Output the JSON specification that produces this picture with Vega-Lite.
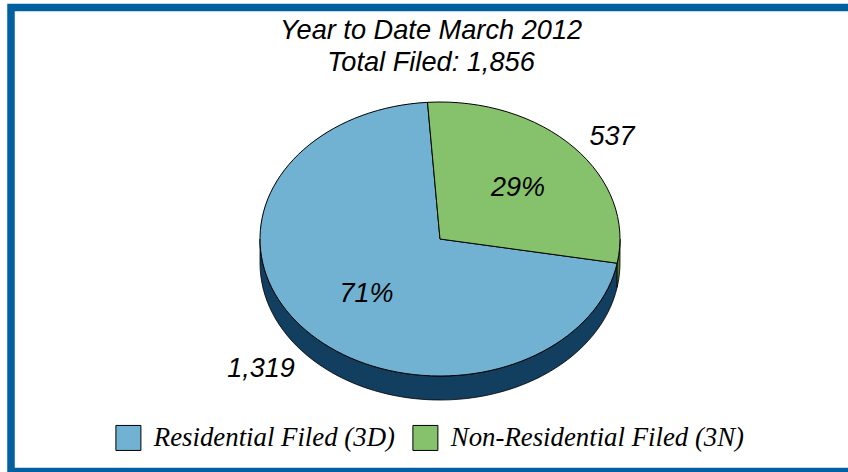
{"$schema":"https://vega.github.io/schema/vega-lite/v6.json","width":842,"height":464,"autosize":{"type":"none"},"padding":{"left":11,"top":7.5,"right":-5,"bottom":0.5},"background":"white","config":{"view":{"stroke":"#0060a0","strokeWidth":7.5,"fill":"white"},"text":{"font":"Liberation Sans"}},"title":{"text":["Year to Date March 2012","Total Filed: 1,856"],"font":"Liberation Sans","fontStyle":"italic","fontWeight":"normal","fontSize":27.2,"lineHeight":32,"color":"black","anchor":"middle","orient":"top","dy":70,"dx":-1,"offset":0},"data":{"values":[{"category":"Residential Filed (3D)","count":1319,"share":0.71},{"category":"Non-Residential Filed (3N)","count":537,"share":0.29}]},"layer":[{"transform":[{"filter":"datum.category === 'Residential Filed (3D)'"}],"mark":{"type":"point","filled":true,"fill":"#123f60","stroke":"black","strokeWidth":0.8,"opacity":1,"size":4,"xOffset":8,"yOffset":-0.5,"shape":"M177.17,24.21A180,137 0 0 1 -180,0L-180,24A180,137 0 0 0 177.17,48.21Z"},"encoding":{}},{"transform":[{"filter":"datum.category === 'Non-Residential Filed (3N)'"}],"mark":{"type":"point","filled":true,"fill":"#4f7a2e","stroke":"black","strokeWidth":0.8,"opacity":1,"size":4,"xOffset":8,"yOffset":-0.5,"shape":"M180,0A180,137 0 0 1 177.17,24.21L177.17,48.21A180,137 0 0 0 180,24Z"},"encoding":{}},{"transform":[{"filter":"datum.category === 'Residential Filed (3D)'"}],"mark":{"type":"point","filled":true,"stroke":"black","strokeWidth":1,"opacity":1,"size":4,"xOffset":8,"yOffset":-0.5,"shape":"M0,0L177.17,24.21A180,137 0 1 1 -12.49,-136.67Z"},"encoding":{"fill":{"field":"category","type":"nominal","scale":{"domain":["Residential Filed (3D)","Non-Residential Filed (3N)"],"range":["#71b2d2","#85c26b"]},"legend":{"title":null,"orient":"none","legendX":104,"legendY":417,"direction":"horizontal","columns":2,"symbolType":"square","symbolSize":625,"symbolStrokeColor":"black","symbolStrokeWidth":1,"symbolOpacity":1,"labelFont":"Liberation Serif","labelFontStyle":"italic","labelFontSize":26.8,"labelColor":"black","labelLimit":400,"labelOffset":12,"columnPadding":15,"encoding":{"labels":{"update":{"dy":{"value":3}}}}}}}},{"transform":[{"filter":"datum.category === 'Non-Residential Filed (3N)'"}],"mark":{"type":"point","filled":true,"stroke":"black","strokeWidth":1,"opacity":1,"size":4,"xOffset":8,"yOffset":-0.5,"shape":"M0,0L-12.49,-136.67A180,137 0 0 1 177.17,24.21Z"},"encoding":{"fill":{"field":"category","type":"nominal","legend":null}}},{"mark":{"type":"text","fontStyle":"italic","fontSize":27,"color":"black"},"encoding":{"text":{"field":"share","type":"quantitative","format":".0%"},"x":{"field":"category","type":"nominal","axis":null,"scale":{"type":"point","padding":0,"domain":["Residential Filed (3D)","Non-Residential Filed (3N)"],"range":[355.5,507]}},"y":{"field":"category","type":"nominal","axis":null,"scale":{"type":"point","padding":0,"domain":["Residential Filed (3D)","Non-Residential Filed (3N)"],"range":[286.5,180.5]}}}},{"mark":{"type":"text","fontStyle":"italic","fontSize":27,"color":"black"},"encoding":{"text":{"field":"count","type":"quantitative","format":","},"x":{"field":"category","type":"nominal","axis":null,"scale":{"type":"point","padding":0,"domain":["Residential Filed (3D)","Non-Residential Filed (3N)"],"range":[250,601]}},"y":{"field":"category","type":"nominal","axis":null,"scale":{"type":"point","padding":0,"domain":["Residential Filed (3D)","Non-Residential Filed (3N)"],"range":[361.5,129.5]}}}}],"resolve":{"scale":{"x":"independent","y":"independent"}}}
